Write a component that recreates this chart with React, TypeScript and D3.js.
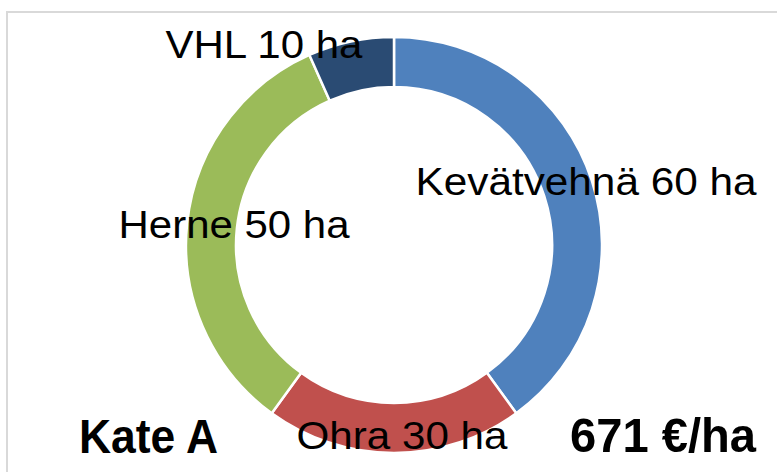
import React, { useEffect, useRef } from 'react';
import * as d3 from 'd3';

// 作物面积（ha），顺时针从12点方向开始
const crops = ['Kevätvehnä', 'Ohra', 'Herne', 'VHL'];
const areas = [60, 30, 50, 10];
const colors = ['#4f81bd', '#c0504d', '#9bbb59', '#2a4b73'];
const farmName = 'Kate A';
const marginText = '671 €/ha';

// 标签位置（相对于圆心），手动摆放，和原图一致
const labelPos: [number, number, number][] = [
  [192, -50, 341],
  [8, 204, 211],
  [-160, -7, 231],
  [-130, -187, 197],
];

const W = 777, H = 472;
const cx = 394, cy = 245;
const outerR = 208, innerR = 158;

const App: React.FC = () => {
  const svgRef = useRef<SVGSVGElement>(null);

  useEffect(() => {
    if (!svgRef.current) return;
    const svg = d3.select(svgRef.current);
    svg.selectAll('*').remove();

    // 外框（只有上、左两边可见）
    svg.append('rect')
      .attr('x', 7).attr('y', 12)
      .attr('width', 820).attr('height', 520)
      .attr('fill', '#fff')
      .attr('stroke', '#d9d9d9').attr('stroke-width', 2);

    const data = crops.map((c, i) => ({ name: c, v: areas[i] }));
    const pie = d3.pie<{ name: string; v: number }>().value(d => d.v).sort(null);
    const arc = d3.arc<d3.PieArcDatum<{ name: string; v: number }>>()
      .innerRadius(innerR).outerRadius(outerR);

    const g = svg.append('g').attr('transform', `translate(${cx},${cy})`);
    g.selectAll('path.slice')
      .data(pie(data))
      .enter()
      .append('path')
      .attr('class', 'slice')
      .attr('d', arc as any)
      .attr('fill', (d, i) => colors[i])
      .attr('stroke', '#fff')
      .attr('stroke-width', 2.5);

    // 数据标签
    g.selectAll('text.lbl')
      .data(data)
      .enter()
      .append('text')
      .attr('class', 'lbl')
      .attr('x', (d, i) => labelPos[i][0])
      .attr('y', (d, i) => labelPos[i][1])
      .attr('text-anchor', 'middle')
      .attr('textLength', (d, i) => labelPos[i][2])
      .attr('lengthAdjust', 'spacingAndGlyphs')
      .style('font-family', 'Liberation Sans, Arial, sans-serif')
      .style('font-size', '38px')
      .style('fill', '#000')
      .text(d => `${d.name} ${d.v} ha`);

    // 底部粗体文字
    svg.append('text')
      .attr('x', 79).attr('y', 453)
      .attr('textLength', 139)
      .attr('lengthAdjust', 'spacingAndGlyphs')
      .style('font-family', 'Liberation Sans, Arial, sans-serif')
      .style('font-size', '48px').style('font-weight', 'bold')
      .text(farmName);

    svg.append('text')
      .attr('x', 570).attr('y', 452)
      .attr('textLength', 186)
      .attr('lengthAdjust', 'spacingAndGlyphs')
      .style('font-family', 'Liberation Sans, Arial, sans-serif')
      .style('font-size', '49px').style('font-weight', 'bold')
      .text(marginText);
  }, []);

  return (
    <svg ref={svgRef} width={W} height={H}
      style={{ position: 'absolute', left: 0, top: 0, background: '#fff' }} />
  );
};

export default App;
